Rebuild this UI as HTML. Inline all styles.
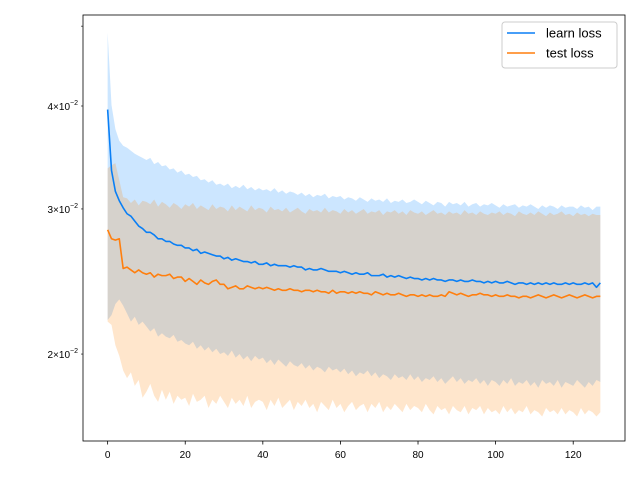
<!DOCTYPE html>
<html><head><meta charset="utf-8"><style>
html,body{margin:0;padding:0;background:#fff;}
svg{display:block;font-family:"Liberation Sans","DejaVu Sans",sans-serif;}
</style></head><body>
<svg id="chart" width="640" height="480">
<rect width="640" height="480" fill="#fff"/>
<g id="plot"></g>
</svg>
<script>
const xValues = Array.from({length:128},(_, i)=>i);
const learnMean=[39.6,33.4,31.5,30.7,30.1,29.6,29.4,29.0,28.6,28.4,28.1,28.1,27.9,27.6,27.6,27.4,27.4,27.2,27.1,27.1,26.9,26.9,26.7,26.8,26.5,26.6,26.5,26.4,26.3,26.3,26.1,26.2,26.0,26.1,26.0,25.9,25.9,25.8,25.9,25.7,25.7,25.8,25.6,25.7,25.6,25.6,25.6,25.5,25.6,25.5,25.5,25.3,25.4,25.3,25.3,25.4,25.3,25.2,25.2,25.2,25.1,25.2,25.1,25.0,25.1,25.0,25.0,25.1,24.9,24.9,24.9,25.0,24.8,24.9,24.8,24.9,24.8,24.7,24.8,24.7,24.7,24.6,24.7,24.6,24.7,24.6,24.6,24.5,24.6,24.6,24.5,24.6,24.5,24.5,24.6,24.5,24.5,24.4,24.5,24.4,24.5,24.4,24.4,24.5,24.4,24.3,24.4,24.4,24.3,24.4,24.3,24.4,24.3,24.4,24.3,24.4,24.3,24.3,24.4,24.3,24.4,24.3,24.3,24.4,24.3,24.4,24.1,24.4];
const testMean=[28.3,27.6,27.5,27.6,25.4,25.5,25.3,25.1,25.3,25.1,25.0,25.1,24.8,25.0,24.9,24.9,25.0,24.7,24.8,24.8,24.5,24.7,24.5,24.3,24.6,24.4,24.3,24.5,24.6,24.3,24.3,24.0,24.1,24.2,24.0,24.0,24.2,24.1,24.0,24.1,24.0,24.1,24.0,23.9,24.0,23.9,23.9,24.0,23.9,23.9,23.8,23.9,23.9,23.8,23.9,23.8,23.8,23.7,23.9,23.7,23.8,23.8,23.7,23.8,23.7,23.8,23.7,23.7,23.6,23.8,23.7,23.6,23.7,23.6,23.6,23.7,23.6,23.5,23.6,23.6,23.5,23.6,23.5,23.6,23.5,23.5,23.6,23.5,23.8,23.7,23.6,23.7,23.6,23.5,23.6,23.6,23.7,23.6,23.6,23.5,23.6,23.5,23.5,23.6,23.5,23.5,23.4,23.5,23.5,23.4,23.5,23.6,23.5,23.4,23.5,23.6,23.5,23.4,23.5,23.6,23.5,23.4,23.5,23.6,23.5,23.4,23.5,23.5];
const learnUpper=[49.1,40.1,37.5,36.3,35.8,35.6,35.3,35.0,34.8,34.6,34.4,34.6,34.0,34.2,33.8,33.9,33.5,33.6,33.2,33.4,33.0,33.1,32.8,32.9,32.5,32.6,32.3,32.5,32.1,32.2,32.0,32.2,31.8,32.0,31.8,32.1,31.7,31.9,31.6,31.8,31.6,31.7,31.5,31.8,31.4,31.6,31.3,31.5,31.4,31.2,31.4,31.1,31.3,31.0,31.2,31.1,31.3,30.9,31.1,31.0,31.1,30.8,31.0,30.9,30.7,31.0,30.8,30.6,30.9,30.7,30.8,30.6,30.9,30.5,30.7,30.6,30.8,30.5,30.6,30.8,30.6,30.4,30.7,30.5,30.3,30.6,30.5,30.2,30.6,30.4,30.5,30.3,30.6,30.2,30.4,30.5,30.2,30.4,30.3,30.5,30.3,30.1,30.4,30.2,30.3,30.4,30.1,30.3,30.2,30.4,30.2,30.0,30.3,30.1,30.3,30.2,30.0,30.3,30.1,30.2,30.2,30.0,30.3,30.1,30.2,29.9,30.2,30.2];
const learnLower=[22.0,22.3,23.0,23.3,22.9,22.4,21.9,22.2,21.7,21.9,21.6,21.3,21.5,21.0,21.2,21.0,20.9,21.1,20.7,20.8,20.6,20.5,20.7,20.3,20.5,20.2,20.4,20.1,20.3,20.0,20.1,19.9,20.2,19.8,20.0,19.7,19.9,19.6,19.9,19.7,19.8,19.5,19.7,19.4,19.7,19.5,19.3,19.6,19.4,19.3,19.5,19.2,19.4,19.1,19.3,19.2,19.0,19.3,19.1,19.2,19.0,19.2,18.9,19.1,18.8,19.0,18.9,19.1,18.8,19.0,18.7,18.9,18.8,18.6,18.9,18.7,18.8,18.6,18.9,18.6,18.8,18.5,18.7,18.6,18.8,18.5,18.7,18.4,18.6,18.8,18.5,18.7,18.4,18.6,18.5,18.7,18.4,18.6,18.3,18.6,18.5,18.3,18.6,18.4,18.7,18.3,18.5,18.4,18.6,18.3,18.5,18.2,18.6,18.4,18.5,18.3,18.6,18.2,18.5,18.4,18.3,18.6,18.4,18.2,18.5,18.3,18.6,18.5];
const testUpper=[33.6,33.9,34.1,32.5,31.0,30.9,30.5,30.8,30.3,30.7,30.6,30.4,30.8,30.2,30.6,30.4,30.1,30.5,30.3,30.0,30.4,30.2,30.5,30.0,30.3,30.1,29.9,30.4,30.0,30.2,30.1,29.8,30.3,29.9,30.2,30.0,29.8,30.3,29.9,30.1,30.0,29.7,30.2,29.9,30.0,29.8,30.1,29.7,29.9,30.1,29.8,29.6,30.0,29.8,29.9,29.7,30.1,29.7,29.9,29.8,29.6,30.0,29.7,29.9,29.6,29.8,30.0,29.6,29.8,29.7,29.9,29.5,29.8,29.7,29.9,29.6,29.8,29.5,29.9,29.7,29.6,29.8,29.5,29.7,29.9,29.6,29.7,29.5,29.8,29.6,29.7,29.5,29.9,29.6,29.7,29.5,29.8,29.6,29.5,29.7,29.6,29.8,29.5,29.7,29.6,29.4,29.8,29.6,29.5,29.7,29.5,29.8,29.6,29.4,29.7,29.5,29.6,29.8,29.5,29.6,29.4,29.7,29.5,29.6,29.4,29.6,29.5,29.5];
const testLower=[21.9,21.7,20.5,19.9,19.1,18.7,19.0,18.3,18.6,17.7,18.0,18.4,17.8,17.5,18.1,17.6,18.0,17.4,17.8,17.6,17.7,17.3,17.9,17.5,17.6,17.8,17.2,17.6,17.4,17.8,17.5,17.2,17.7,17.4,17.6,17.3,17.8,17.2,17.5,17.6,17.5,17.1,17.6,17.3,17.7,17.2,17.4,17.6,17.1,17.5,17.3,17.6,17.2,17.4,17.0,17.5,17.3,17.1,17.6,17.2,17.4,17.0,17.3,17.5,17.1,17.3,17.4,17.0,17.4,17.2,17.5,17.0,17.3,17.1,17.4,17.2,17.0,17.4,17.1,17.3,17.2,17.0,17.4,17.1,16.9,17.3,17.1,17.2,16.9,17.3,17.1,17.0,17.3,16.9,17.2,17.1,17.3,16.9,17.2,17.0,17.1,16.9,17.3,17.0,17.2,16.9,17.1,17.0,17.3,16.9,17.1,17.0,16.8,17.2,17.0,17.1,16.9,17.2,16.9,17.1,17.0,16.8,17.2,16.9,17.1,17.0,16.8,17.0];
const xTicks=[0,20,40,60,80,100,120];
const yTickValues=[0.02,0.03,0.04,0.05];
const yTickLabels=["2","3","4",""];
const seriesNames=["learn loss","test loss"];

const L=83,R=625,T=15,B=441;
const xMin=-6.35,xMax=133.35;
const yRef=0.04,yRefPx=106,pxPerDecade=824;
function sx(v){return L+(v-xMin)/(xMax-xMin)*(R-L);}
function sy(v){return yRefPx-Math.log10(v/yRef)*pxPerDecade;}
const NS="http://www.w3.org/2000/svg";
const g=document.getElementById('plot');
function mk(tag,attrs,parent){const e=document.createElementNS(NS,tag);for(const k in attrs)e.setAttribute(k,attrs[k]);(parent||g).appendChild(e);return e;}
function band(up,lo,fill,name){
  let d='';up.forEach((v,i)=>{d+=(i?'L':'M')+sx(xValues[i]).toFixed(2)+','+sy(v/1000).toFixed(2);});
  for(let i=lo.length-1;i>=0;i--)d+='L'+sx(xValues[i]).toFixed(2)+','+sy(lo[i]/1000).toFixed(2);
  const p=mk('path',{d:d+'Z',fill:fill,stroke:'none'});
  
  
}
function line(vals,color,name){
  let d='';vals.forEach((v,i)=>{d+=(i?'L':'M')+sx(xValues[i]).toFixed(2)+','+sy(v/1000).toFixed(2);});
  const p=mk('path',{d:d,fill:'none',stroke:color,'stroke-width':1.6,'stroke-linejoin':'round'});
  
  
}
const clip=mk('clipPath',{id:'c'});mk('rect',{x:L,y:T,width:R-L,height:B-T},clip);
const inner=mk('g',{'clip-path':'url(#c)'});
const gSave=g;
(function(){
  const old=g;
  window._g=inner;
})();
function bandIn(up,lo,fill,name){const p=band(up,lo,fill,name);}
// draw into clipped group
const origAppend=g;
function drawInto(parent,fn){const save=g.appendChild.bind(g);fn();}
band(learnUpper,learnLower,'rgba(0,128,255,0.2)','learn-loss-band');
band(testUpper,testLower,'rgba(255,128,0,0.2)','test-loss-band');
line(learnMean,'#0a7ff5','learn-loss-line');
line(testMean,'#ff7f0e','test-loss-line');
// axes frame
const fr=mk('rect',{x:L,y:T,width:R-L,height:B-T,fill:'none',stroke:'#000','stroke-width':0.8});


xTicks.forEach(v=>{
  const x=sx(v);
  const t=mk('line',{x1:x,x2:x,y1:B,y2:B+3.5,stroke:'#000','stroke-width':0.8});
  
  
  const tx=mk('text',{x:x,y:B+17,'font-size':10,'text-anchor':'middle',fill:'#000'});
  tx.textContent=v;
  
  
});
yTickValues.forEach((v,i)=>{
  const y=sy(v);
  const t=mk('line',{x1:L-2,x2:L,y1:y,y2:y,stroke:'#000','stroke-width':0.6});
  
  
  if(yTickLabels[i]){
    const tx=mk('text',{x:L-5,y:y+4,'font-size':10,'text-anchor':'end',fill:'#000'});
    tx.innerHTML=yTickLabels[i]+'\u00d710<tspan dy="-5" font-size="7">\u22122</tspan>';
    
    
  }
});
// legend
const lg=mk('g',{});


mk('rect',{x:502,y:22,width:115,height:46,rx:3,fill:'rgba(255,255,255,0.8)',stroke:'#ccc','stroke-width':1},lg);
const lcols=['#0a7ff5','#ff7f0e'];
seriesNames.forEach((n,i)=>{
  const y=33+i*20;
  const e=mk('g',{},lg);
  
  
  mk('line',{x1:507,x2:535,y1:y,y2:y,stroke:lcols[i],'stroke-width':1.6},e);
  const t=mk('text',{x:546,y:y+4.5,'font-size':13,fill:'#000'},e);
  t.textContent=n;
});
</script>
</body></html>
